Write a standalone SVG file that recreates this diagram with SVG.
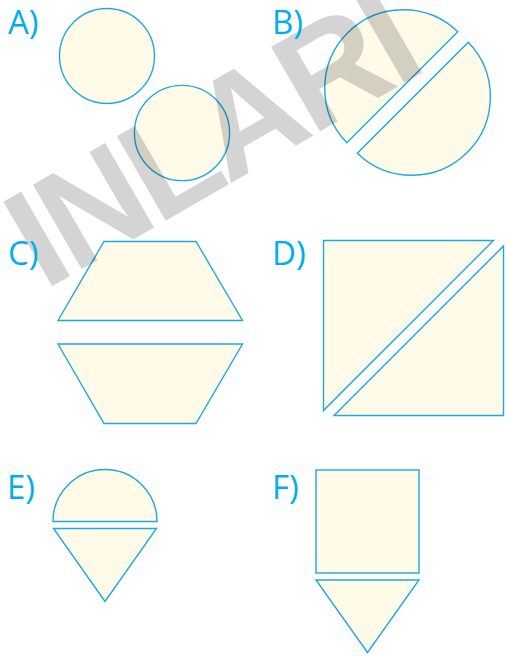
<svg xmlns="http://www.w3.org/2000/svg" width="506" height="656" viewBox="0 0 506 656">
<style>
.shape{fill:#fffbe8;stroke:#1ea9e1;stroke-width:1.4;stroke-linejoin:miter}
.lbl{font-family:"Open Sans","Noto Sans","Liberation Sans",sans-serif;font-size:33px;fill:#00aeef}
.wm{font-family:"Liberation Sans",Arial,sans-serif;font-weight:bold;font-size:142px;letter-spacing:-5.5px;fill:#000;fill-opacity:0.17}
</style>
<rect width="506" height="656" fill="#ffffff"/>
<g id="fig-A">
<circle class="shape" cx="107" cy="56" r="47.5"/>
<circle class="shape" cx="182" cy="133" r="47.6"/>
</g>
<g id="fig-B">
<path class="shape" d="M457.8 31.8 A78.5 78.5 0 0 0 346.8 142.8 Z"/>
<path class="shape" d="M468.3 42.2 A78.5 78.5 0 0 1 357.3 153.2 Z"/>
</g>
<g id="fig-C">
<path class="shape" d="M104 241.5 L196 241.5 L242.5 320.5 L58 320.5 Z"/>
<path class="shape" d="M58 344 L242.5 344 L196 423.5 L104 423.5 Z"/>
</g>
<g id="fig-D">
<path class="shape" d="M323.5 240.5 L493.5 240.5 L323.5 410.5 Z"/>
<path class="shape" d="M503.5 246 L503.5 415.5 L334 415.5 Z"/>
</g>
<g id="fig-E">
<path class="shape" d="M53 521.5 A52 52 0 0 1 157 521.5 Z"/>
<path class="shape" d="M53.5 528.5 L156.5 528.5 L105 601.5 Z"/>
</g>
<g id="fig-F">
<rect class="shape" x="316" y="470" width="103" height="103"/>
<path class="shape" d="M316 580 L419 580 L367.5 652.5 Z"/>
</g>
<g id="watermark">
<text class="wm" x="44" y="291" transform="rotate(-30 44 291)">INLARI</text>
</g>
<g id="labels">
<text class="lbl" x="8" y="33.5">A)</text>
<text class="lbl" x="272" y="33.5">B)</text>
<text class="lbl" x="8" y="265">C)</text>
<text class="lbl" x="272" y="265">D)</text>
<text class="lbl" x="7" y="499">E)</text>
<text class="lbl" x="272" y="499">F)</text>
</g>
</svg>
